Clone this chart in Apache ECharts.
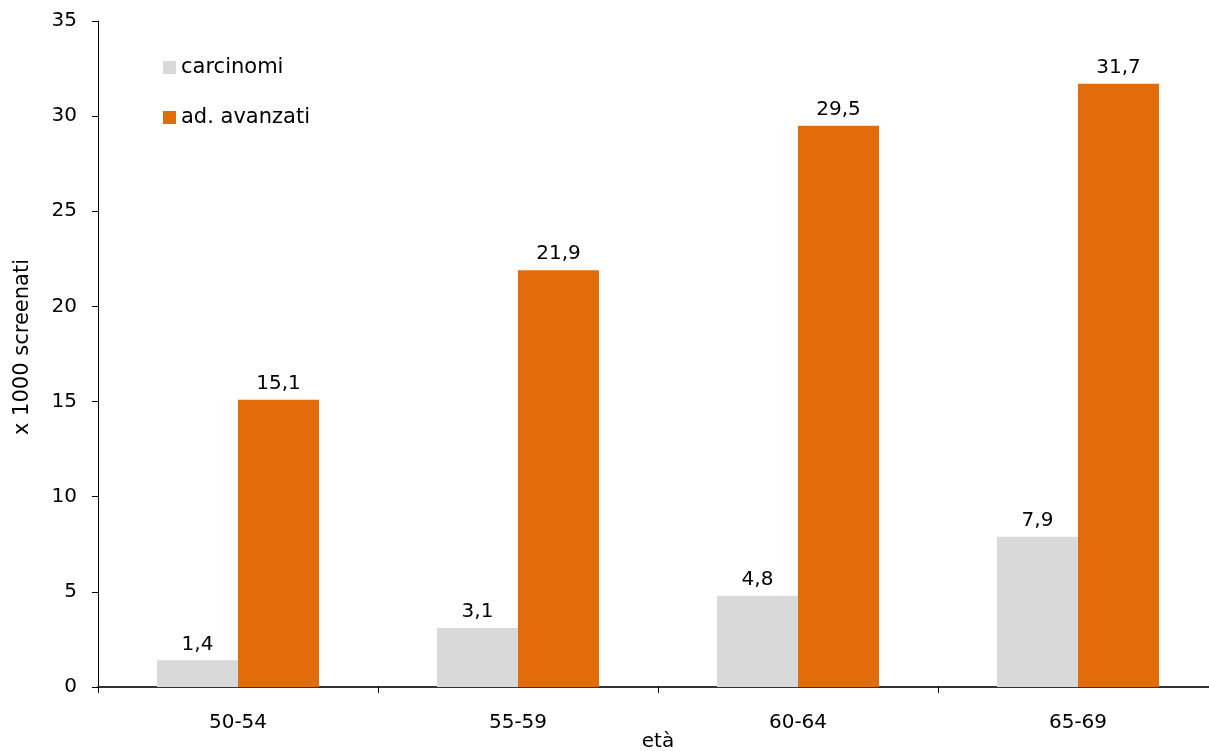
<!DOCTYPE html>
<html>
<head>
<meta charset="utf-8">
<script src="https://cdn.jsdelivr.net/npm/echarts@6/dist/echarts.min.js"></script>
<style>html,body{margin:0;padding:0;background:#fff}#c{width:1209px;height:751px}</style>
</head>
<body>
<div id="c"></div>
<script>
const categories = ['50-54', '55-59', '60-64', '65-69'];
const carcinomi = [1.4, 3.1, 4.8, 7.9];
const avanzati = [15.1, 21.9, 29.5, 31.7];
const seriesNames = ['carcinomi', 'ad. avanzati'];

const FONT = 'DejaVu Sans';
const fmt = p => String(p.value).replace('.', ',');
const chart = echarts.init(document.getElementById('c'));
chart.setOption({
  animation: false,
  textStyle: { fontFamily: FONT },
  grid: { left: 98, right: -9, top: 21, bottom: 64, outerBoundsMode: 'none', containLabel: false },
  legend: {
    orient: 'vertical', left: 158, top: 52, itemGap: 29,
    itemWidth: 13, itemHeight: 13, icon: 'rect',
    textStyle: { fontFamily: FONT, fontSize: 21, color: '#000' },
    data: seriesNames
  },
  xAxis: {
    type: 'category', data: categories,
    name: 'età', nameLocation: 'middle', nameGap: 45, nameMoveOverlap: false,
    nameTextStyle: { fontFamily: FONT, fontSize: 20, color: '#000' },
    axisLine: { lineStyle: { color: '#333', width: 2 } },
    axisTick: { show: true, length: 6, lineStyle: { color: '#000' } },
    axisLabel: { fontFamily: FONT, fontSize: 20, color: '#000', margin: 26 }
  },
  yAxis: {
    type: 'value', min: 0, max: 35, interval: 5,
    name: 'x 1000 screenati', nameLocation: 'middle', nameGap: 65, nameMoveOverlap: false,
    nameTextStyle: { fontFamily: FONT, fontSize: 21, color: '#000', padding: [0, 0, 0, 14] },
    axisLine: { show: true, lineStyle: { color: '#000', width: 1 } },
    axisTick: { show: true, length: 6, lineStyle: { color: '#000' } },
    splitLine: { show: false },
    axisLabel: { fontFamily: FONT, fontSize: 20, color: '#000', margin: 21 }
  },
  series: [
    { name: seriesNames[0], type: 'bar', data: carcinomi, barWidth: 81, barGap: '0%',
      itemStyle: { color: '#d9d9d9' },
      label: { show: true, position: 'top', distance: 6, formatter: fmt, fontFamily: FONT, fontSize: 20, color: '#000' } },
    { name: seriesNames[1], type: 'bar', data: avanzati, barWidth: 81, barGap: '0%',
      itemStyle: { color: '#e36c0a' },
      label: { show: true, position: 'top', distance: 6, formatter: fmt, fontFamily: FONT, fontSize: 20, color: '#000' } }
  ]
});
</script>
</body>
</html>
